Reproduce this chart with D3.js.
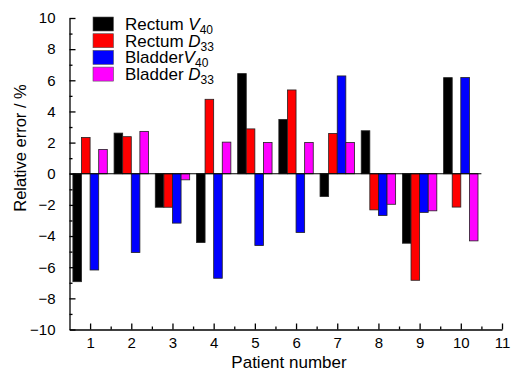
<!DOCTYPE html>
<html>
<head>
<meta charset="utf-8">
<script src="https://cdn.jsdelivr.net/npm/d3@7"></script>
<style>
  body { margin: 0; background: #fff; }
  text { font-family: Arial, "Liberation Sans", sans-serif; fill: #000; }
</style>
</head>
<body>
<div id="chart"></div>
<script>
var patients = [1, 2, 3, 4, 5, 6, 7, 8, 9, 10];
var rectumV40 = [-6.93, 2.61, -2.15, -4.42, 6.43, 3.49, -1.46, 2.76, -4.46, 6.17];
var rectumD33 = [2.33, 2.38, -2.15, 4.78, 2.88, 5.38, 2.59, -2.32, -6.84, -2.14];
var bladderV40 = [-6.18, -5.06, -3.17, -6.71, -4.61, -3.77, 6.28, -2.68, -2.48, 6.18];
var bladderD33 = [1.56, 2.72, -0.39, 2.03, 2.01, 2.01, 2.01, -1.96, -2.38, -4.31];
var yTicks = [-10, -8, -6, -4, -2, 0, 2, 4, 6, 8, 10];
var xTicks = [1, 2, 3, 4, 5, 6, 7, 8, 9, 10, 11];

var series = [
  { name: "Rectum ", sym: "V", sub: "40", color: "#000000", values: rectumV40 },
  { name: "Rectum ", sym: "D", sub: "33", color: "#ff0000", values: rectumD33 },
  { name: "Bladder", sym: "V", sub: "40", color: "#0000ff", values: bladderV40 },
  { name: "Bladder ", sym: "D", sub: "33", color: "#ff00ff", values: bladderD33 }
];

var w = 511, h = 373;
var mLeft = 69.5, mRight = 502, mTop = 18, mBottom = 329.5;
var barW = 8.6;

var svg = d3.select("#chart").append("svg")
  .attr("width", w)
  .attr("height", h);

var x = d3.scaleLinear().domain([0.5, 11]).range([mLeft, mRight]);
var y = d3.scaleLinear().domain([-10, 10]).range([mBottom, mTop]);

// bars
series.forEach(function (s, si) {
  svg.append("g").selectAll("rect")
    .data(s.values)
    .enter()
    .append("rect")
    .attr("x", function (d, i) { return x(patients[i]) + (si - 2) * barW; })
    .attr("y", function (d) { return y(Math.max(d, 0)); })
    .attr("width", barW)
    .attr("height", function (d) { return Math.abs(y(d) - y(0)); })
    .attr("fill", s.color)
    .attr("stroke", "#222")
    .attr("stroke-width", 0.8);
});

// zero line
svg.append("line")
  .attr("x1", x(0.5)).attr("x2", x(10.5))
  .attr("y1", y(0)).attr("y2", y(0))
  .attr("stroke", "#000").attr("stroke-width", 1);

// y axis
svg.append("g")
  .attr("transform", "translate(" + mLeft + ",0)")
  .call(d3.axisLeft(y).tickValues(yTicks).tickSizeInner(-6).tickSizeOuter(0).tickPadding(14)
    .tickFormat(function (d) { return d < 0 ? "\u2212" + Math.abs(d) : d; }));
svg.append("g")
  .attr("transform", "translate(" + mLeft + ",0)")
  .call(d3.axisLeft(y).tickValues(d3.range(-9, 10, 2)).tickSizeInner(-3).tickSizeOuter(0).tickFormat(""))
  .select(".domain").remove();

// x axis
svg.append("g")
  .attr("transform", "translate(0," + mBottom + ")")
  .call(d3.axisBottom(x).tickValues(xTicks).tickSizeInner(-6).tickSizeOuter(0).tickPadding(8));
svg.append("g")
  .attr("transform", "translate(0," + mBottom + ")")
  .call(d3.axisBottom(x).tickValues(d3.range(1.5, 11, 1)).tickSizeInner(-3).tickSizeOuter(0).tickFormat(""))
  .select(".domain").remove();

svg.selectAll(".domain, .tick line").attr("stroke", "#000").attr("stroke-width", 1.3);
svg.selectAll(".tick text")
  .attr("font-family", "Arial, 'Liberation Sans', sans-serif")
  .attr("font-size", 15)
  .style("font-size", "15px")
  .attr("fill", "#000");

// axis titles
svg.append("text")
  .attr("transform", "translate(26,148) rotate(-90)")
  .attr("text-anchor", "middle")
  .style("font-size", "16.5px")
  .text("Relative error / %");

svg.append("text")
  .attr("x", 289)
  .attr("y", 368)
  .attr("text-anchor", "middle")
  .style("font-size", "17px")
  .text("Patient number");

// legend
var legend = svg.append("g").attr("transform", "translate(93,17)");
series.forEach(function (s, i) {
  var g = legend.append("g").attr("transform", "translate(0," + i * 16.7 + ")");
  g.append("rect")
    .attr("width", 20.5).attr("height", 14)
    .attr("fill", s.color)
    .attr("stroke", "#555").attr("stroke-width", 0.6);
  var t = g.append("text")
    .attr("x", 32).attr("y", 13)
    .style("font-size", "17px");
  t.append("tspan").text(s.name);
  t.append("tspan").style("font-style", "italic").text(s.sym);
  t.append("tspan").attr("dy", 4).style("font-size", "12px").text(s.sub);
});
</script>
</body>
</html>
